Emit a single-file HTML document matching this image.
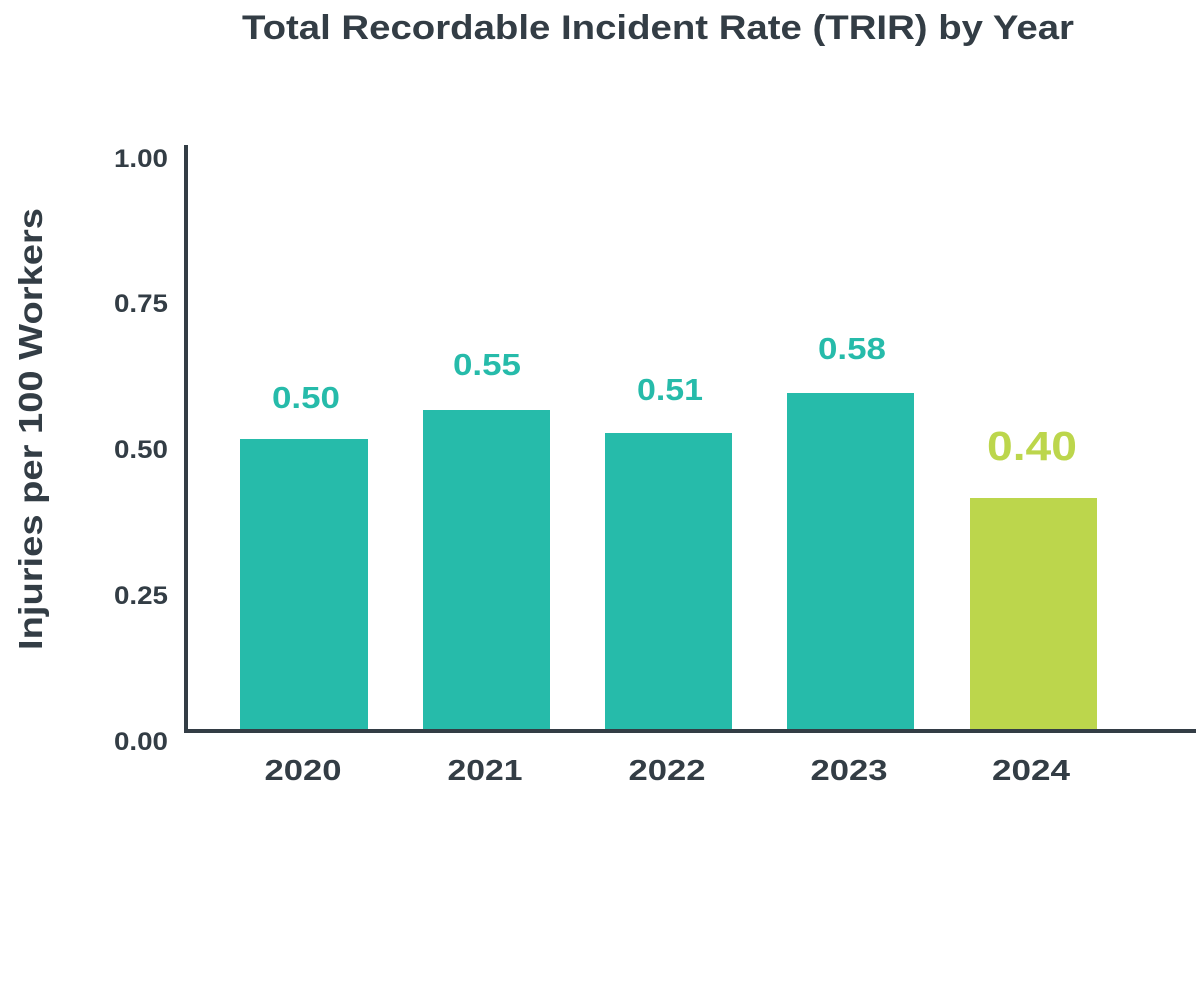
<!DOCTYPE html>
<html><head><meta charset="utf-8"><style>
html,body{margin:0;padding:0;background:#fff;}
svg{display:block;}
text{font-family:"Liberation Sans",sans-serif;font-weight:bold;fill:#333d45;}
</style></head><body>
<svg width="1200" height="994" viewBox="0 0 1200 994" xmlns="http://www.w3.org/2000/svg">
<text x="658" y="39" font-size="34" text-anchor="middle" textLength="832" lengthAdjust="spacingAndGlyphs">Total Recordable Incident Rate (TRIR) by Year</text>
<text transform="translate(42,429) rotate(-90)" font-size="33" text-anchor="middle" textLength="442" lengthAdjust="spacingAndGlyphs">Injuries per 100 Workers</text>
<g font-size="25" text-anchor="end">
<text x="168" y="167" textLength="54" lengthAdjust="spacingAndGlyphs">1.00</text>
<text x="168" y="312" textLength="54" lengthAdjust="spacingAndGlyphs">0.75</text>
<text x="168" y="458" textLength="54" lengthAdjust="spacingAndGlyphs">0.50</text>
<text x="168" y="604" textLength="54" lengthAdjust="spacingAndGlyphs">0.25</text>
<text x="168" y="750" textLength="54" lengthAdjust="spacingAndGlyphs">0.00</text>
</g>
<g fill="#26bbaa">
<rect x="240" y="439" width="128" height="292"/>
<rect x="423" y="410" width="127" height="321"/>
<rect x="605" y="433" width="127" height="298"/>
<rect x="787" y="393" width="127" height="338"/>
</g>
<rect x="970" y="498" width="127" height="233" fill="#bcd64c"/>
<line x1="186" y1="145" x2="186" y2="733" stroke="#333d45" stroke-width="4"/>
<line x1="184" y1="731" x2="1196" y2="731" stroke="#333d45" stroke-width="4"/>
<g font-size="31" text-anchor="middle">
<text x="306" y="408" style="fill:#26bbaa" textLength="68" lengthAdjust="spacingAndGlyphs">0.50</text>
<text x="487" y="375" style="fill:#26bbaa" textLength="68" lengthAdjust="spacingAndGlyphs">0.55</text>
<text x="670" y="400" style="fill:#26bbaa" textLength="66" lengthAdjust="spacingAndGlyphs">0.51</text>
<text x="852" y="359" style="fill:#26bbaa" textLength="68" lengthAdjust="spacingAndGlyphs">0.58</text>
</g>
<text x="1032" y="460" font-size="41" text-anchor="middle" style="fill:#bcd64c" textLength="90" lengthAdjust="spacingAndGlyphs">0.40</text>
<g font-size="29" text-anchor="middle">
<text x="303" y="780" textLength="77" lengthAdjust="spacingAndGlyphs">2020</text>
<text x="485" y="780" textLength="75" lengthAdjust="spacingAndGlyphs">2021</text>
<text x="667" y="780" textLength="77" lengthAdjust="spacingAndGlyphs">2022</text>
<text x="849" y="780" textLength="77" lengthAdjust="spacingAndGlyphs">2023</text>
<text x="1031" y="780" textLength="78" lengthAdjust="spacingAndGlyphs">2024</text>
</g>
</svg>
</body></html>
